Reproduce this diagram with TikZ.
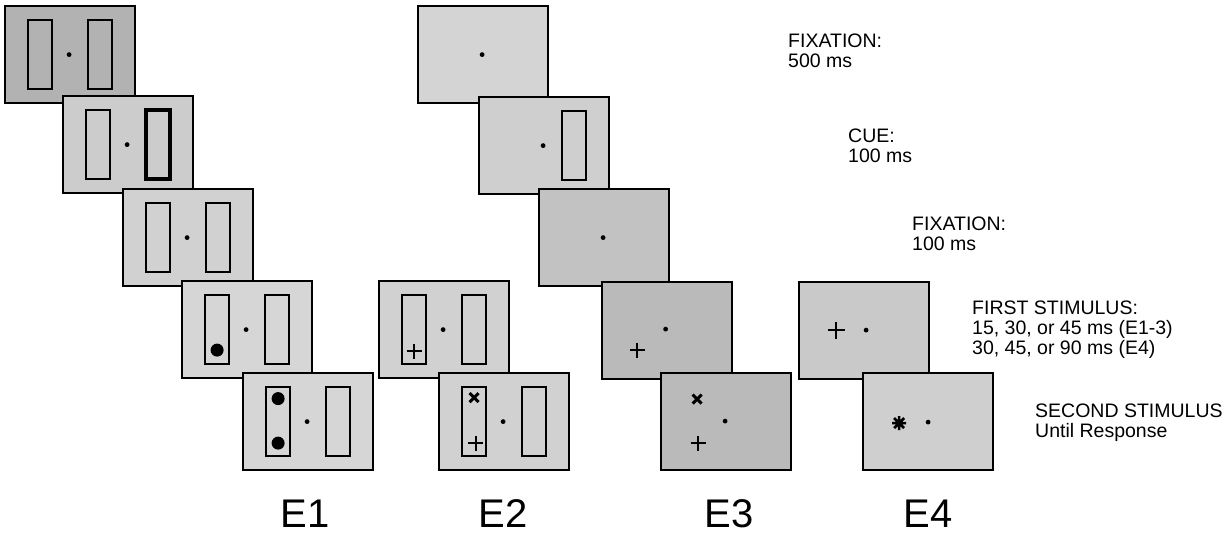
\documentclass[tikz,border=0pt]{standalone}
\usepackage{fontspec}
\setmainfont{Liberation Sans}
\begin{document}
\begin{tikzpicture}[x=1pt,y=-1pt,
  screen/.style={draw=black, line width=2.2pt, minimum width=130pt, minimum height=97pt, inner sep=0pt, anchor=north west},
  bar/.style={draw=black, line width=2pt, minimum width=24pt, minimum height=69pt, inner sep=0pt},
  cuebar/.style={bar, line width=3.6pt},
  plusmk/.style={line width=2.2pt},
  xmk/.style={line width=3pt},
  astmk/.style={line width=2.6pt},
  lab/.style={anchor=north west, inner sep=0pt, align=left, font=\fontsize{19.5}{20}\selectfont},
  expt/.style={anchor=base, inner sep=0pt, font=\fontsize{40}{44}\selectfont}]
\useasboundingbox (0,0) rectangle (1224,533);
% ---------------- E1 column ----------------
\node[screen, fill=black!30] (e1a) at (4,5) {};
\node[bar] (e1aL) at ([shift={(-30,0)}]e1a.center) {};
\node[bar] (e1aR) at ([shift={(30,0)}]e1a.center) {};
\fill ([shift={(-1,0)}]e1a.center) circle (2.4);

\node[screen, fill=black!20] (e1b) at (62,95) {};
\node[bar] (e1bL) at ([shift={(-30,0)}]e1b.center) {};
\node[cuebar] (e1bR) at ([shift={(30,0)}]e1b.center) {};
\fill ([shift={(-1,0)}]e1b.center) circle (2.4);

\node[screen, fill=black!18] (e1c) at (122,188) {};
\node[bar] (e1cL) at ([shift={(-30,0)}]e1c.center) {};
\node[bar] (e1cR) at ([shift={(30,0)}]e1c.center) {};
\fill ([shift={(-1,0)}]e1c.center) circle (2.4);

\node[screen, fill=black!16] (e1d) at (181,280) {};
\node[bar] (e1dL) at ([shift={(-30,0)}]e1d.center) {};
\node[bar] (e1dR) at ([shift={(30,0)}]e1d.center) {};
\fill ([shift={(-1,0)}]e1d.center) circle (2.4);
\fill ([shift={(-30,20.5)}]e1d.center) circle (6.5);

\node[screen, fill=black!16] (e1e) at (242,372) {};
\node[bar] (e1eL) at ([shift={(-30,0)}]e1e.center) {};
\node[bar] (e1eR) at ([shift={(30,0)}]e1e.center) {};
\fill ([shift={(-1,0)}]e1e.center) circle (2.4);
\fill ([shift={(-30,-23)}]e1e.center) circle (6.5);
\fill ([shift={(-30,21.5)}]e1e.center) circle (6.5);

% ---------------- E2 column ----------------
\node[screen, fill=black!18] (e2d) at (378,280) {};
\node[bar] (e2dL) at ([shift={(-30,0)}]e2d.center) {};
\node[bar] (e2dR) at ([shift={(30,0)}]e2d.center) {};
\fill ([shift={(-1,0)}]e2d.center) circle (2.4);
\draw[plusmk] ([shift={(-30,21.5)}]e2d.center) +(-7.5,0) -- +(7.5,0) +(0,-7.5) -- +(0,7.5);

\node[screen, fill=black!18] (e2e) at (438,372) {};
\node[bar] (e2eL) at ([shift={(-30,0)}]e2e.center) {};
\node[bar] (e2eR) at ([shift={(30,0)}]e2e.center) {};
\fill ([shift={(-1,0)}]e2e.center) circle (2.4);
\draw[xmk] ([shift={(-30,-24)}]e2e.center) +(-4.5,-4.5) -- +(4.5,4.5) +(-4.5,4.5) -- +(4.5,-4.5);
\draw[plusmk] ([shift={(-28.5,21.5)}]e2e.center) +(-7.5,0) -- +(7.5,0) +(0,-7.5) -- +(0,7.5);

% ---------------- E3 column (shared top) ----------------
\node[screen, fill=black!17] (e3a) at (417,5) {};
\fill ([shift={(-1,0)}]e3a.center) circle (2.4);

\node[screen, fill=black!19] (e3b) at (478,96) {};
\node[bar] (e3bR) at ([shift={(30,0)}]e3b.center) {};
\fill ([shift={(-1,0)}]e3b.center) circle (2.4);

\node[screen, fill=black!24] (e3c) at (538,188) {};
\fill ([shift={(-1,0)}]e3c.center) circle (2.4);

\node[screen, fill=black!27] (e3d) at (601,281) {};
\fill ([shift={(-1.5,-1.5)}]e3d.center) circle (2.4);
\draw[plusmk] ([shift={(-30,19.5)}]e3d.center) +(-7.5,0) -- +(7.5,0) +(0,-7.5) -- +(0,7.5);

\node[screen, fill=black!27] (e3e) at (660,372) {};
\fill ([shift={(-1,-0.5)}]e3e.center) circle (2.4);
\draw[xmk] ([shift={(-29,-22.5)}]e3e.center) +(-4.5,-4.5) -- +(4.5,4.5) +(-4.5,4.5) -- +(4.5,-4.5);
\draw[plusmk] ([shift={(-28,21.5)}]e3e.center) +(-7.5,0) -- +(7.5,0) +(0,-7.5) -- +(0,7.5);

% ---------------- E4 column ----------------
\node[screen, fill=black!21] (e4d) at (798,281) {};
\fill ([shift={(2,-0.5)}]e4d.center) circle (2.4);
\draw[plusmk] ([shift={(-28,-0.5)}]e4d.center) +(-8.5,0) -- +(8.5,0) +(0,-8.5) -- +(0,8.5);

\node[screen, fill=black!19] (e4e) at (862,372) {};
\fill ([shift={(0,0.5)}]e4e.center) circle (2.4);
\draw[astmk] ([shift={(-29,1.5)}]e4e.center) +(-7,0) -- +(7,0) +(0,-7) -- +(0,7) +(-5,-5) -- +(5,5) +(-5,5) -- +(5,-5);

% ---------------- labels ----------------
\node[lab] (t1) at (788,34) {FIXATION:\\500 ms};
\node[lab] (t2) at (848,129) {CUE:\\100 ms};
\node[lab] (t3) at (912,217) {FIXATION:\\100 ms};
\node[lab] (t4) at (972,301) {FIRST STIMULUS:\\15, 30, or 45 ms (E1-3)\\30, 45, or 90 ms (E4)};
\node[lab] (t5) at (1035,404) {SECOND STIMULUS\\Until Response};

\node[expt] (x1) at (305,527) {E1};
\node[expt] (x2) at (503,527) {E2};
\node[expt] (x3) at (729,527) {E3};
\node[expt] (x4) at (928,527) {E4};
\end{tikzpicture}
\end{document}
